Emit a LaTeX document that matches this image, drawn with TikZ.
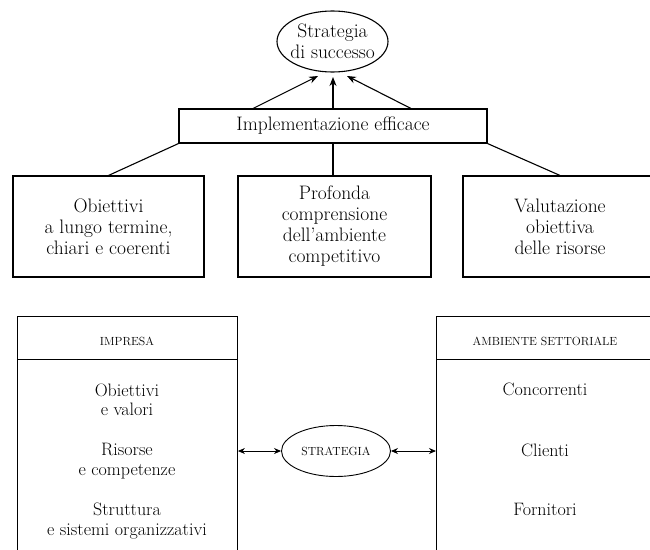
\documentclass[tikz,border=0pt]{standalone}
\usetikzlibrary{arrows.meta,shapes.geometric}
\begin{document}
\begin{tikzpicture}[x=1pt,y=-1pt,line width=1.1pt,
  txt/.style={font=\fontsize{19.5}{21}\selectfont, align=center, inner sep=0pt},
  btxt/.style={font=\fontsize{18}{19.5}\selectfont, align=center, inner sep=0pt},
  box/.style={draw, txt},
  hdr/.style={font=\fontsize{11.8}{13}\selectfont, inner sep=0pt},
  bigbox/.style={draw, line width=0.9pt, anchor=north west, minimum width=220pt, minimum height=250pt, inner sep=0pt},
  uparr/.style={-{Stealth[length=9pt,width=7pt]}},
  dblarr/.style={{Stealth[length=7pt,width=6pt]}-{Stealth[length=7pt,width=6pt]}}]
\useasboundingbox (0,0) rectangle (650,549);
\clip (0,0) rectangle (650,549);
% top
\node[draw, ellipse, inner sep=0pt, minimum width=111pt, minimum height=61pt] (succ) at (332.5,41.5) {};
\node[txt] (succt) at (succ.center) {Strategia\\di successo};
\node[box, minimum width=308pt, minimum height=34pt] (impl) at (333,126) {Implementazione efficace};
\coordinate (a1) at (252,109);
\coordinate (a2) at (333,109);
\coordinate (a3) at (412,109);
\coordinate (t1) at (318,76);
\coordinate (t2) at (333,77);
\coordinate (t3) at (347,76);
\draw[uparr] (a1) -- (t1);
\draw[uparr] (a2) -- (t2);
\draw[uparr] (a3) -- (t3);
\node[box, minimum width=191pt, minimum height=101pt] (ob) at (108.5,226.5) {Obiettivi\\a lungo termine,\\chiari e coerenti};
\node[box, minimum width=193pt, minimum height=101pt] (prof) at (334.5,226.5) {Profonda\\comprensione\\dell'ambiente\\competitivo};
\node[box, minimum width=194pt, minimum height=101pt] (val) at (560,226.5) {Valutazione\\obiettiva\\delle risorse};
\draw (impl.south west) -- (ob.north);
\draw (impl.south) -- (impl.south |- prof.north);
\draw (impl.south east) -- (val.north);
% bottom
\node[bigbox] (impresa) at (17,316) {};
\draw[line width=0.9pt] ([yshift=-43pt]impresa.north west) -- ([yshift=-43pt]impresa.north east);
\node[hdr] (impresah) at (127,341) {IMPRESA};
\node[btxt] (i1) at (127,400) {Obiettivi\\e valori};
\node[btxt] (i2) at (127,461) {Risorse\\e competenze};
\node[btxt] (i3) at (127,521) {Struttura\\e sistemi organizzativi};
\node[bigbox] (amb) at (436,316) {};
\draw[line width=0.9pt] ([yshift=-43pt]amb.north west) -- ([yshift=-43pt]amb.north east);
\node[hdr] (ambh) at (545,341) {AMBIENTE SETTORIALE};
\node[btxt] (c1) at (545,389) {Concorrenti};
\node[btxt] (c2) at (545,450) {Clienti};
\node[btxt] (c3) at (545,509) {Fornitori};
\node[draw, ellipse, hdr, line width=0.9pt, minimum width=109pt, minimum height=51pt] (strat) at (336,451) {STRATEGIA};
\draw[dblarr, line width=0.9pt] (strat -| impresa.east) -- (strat.west);
\draw[dblarr, line width=0.9pt] (strat.east) -- (strat -| amb.west);
\end{tikzpicture}
\end{document}
